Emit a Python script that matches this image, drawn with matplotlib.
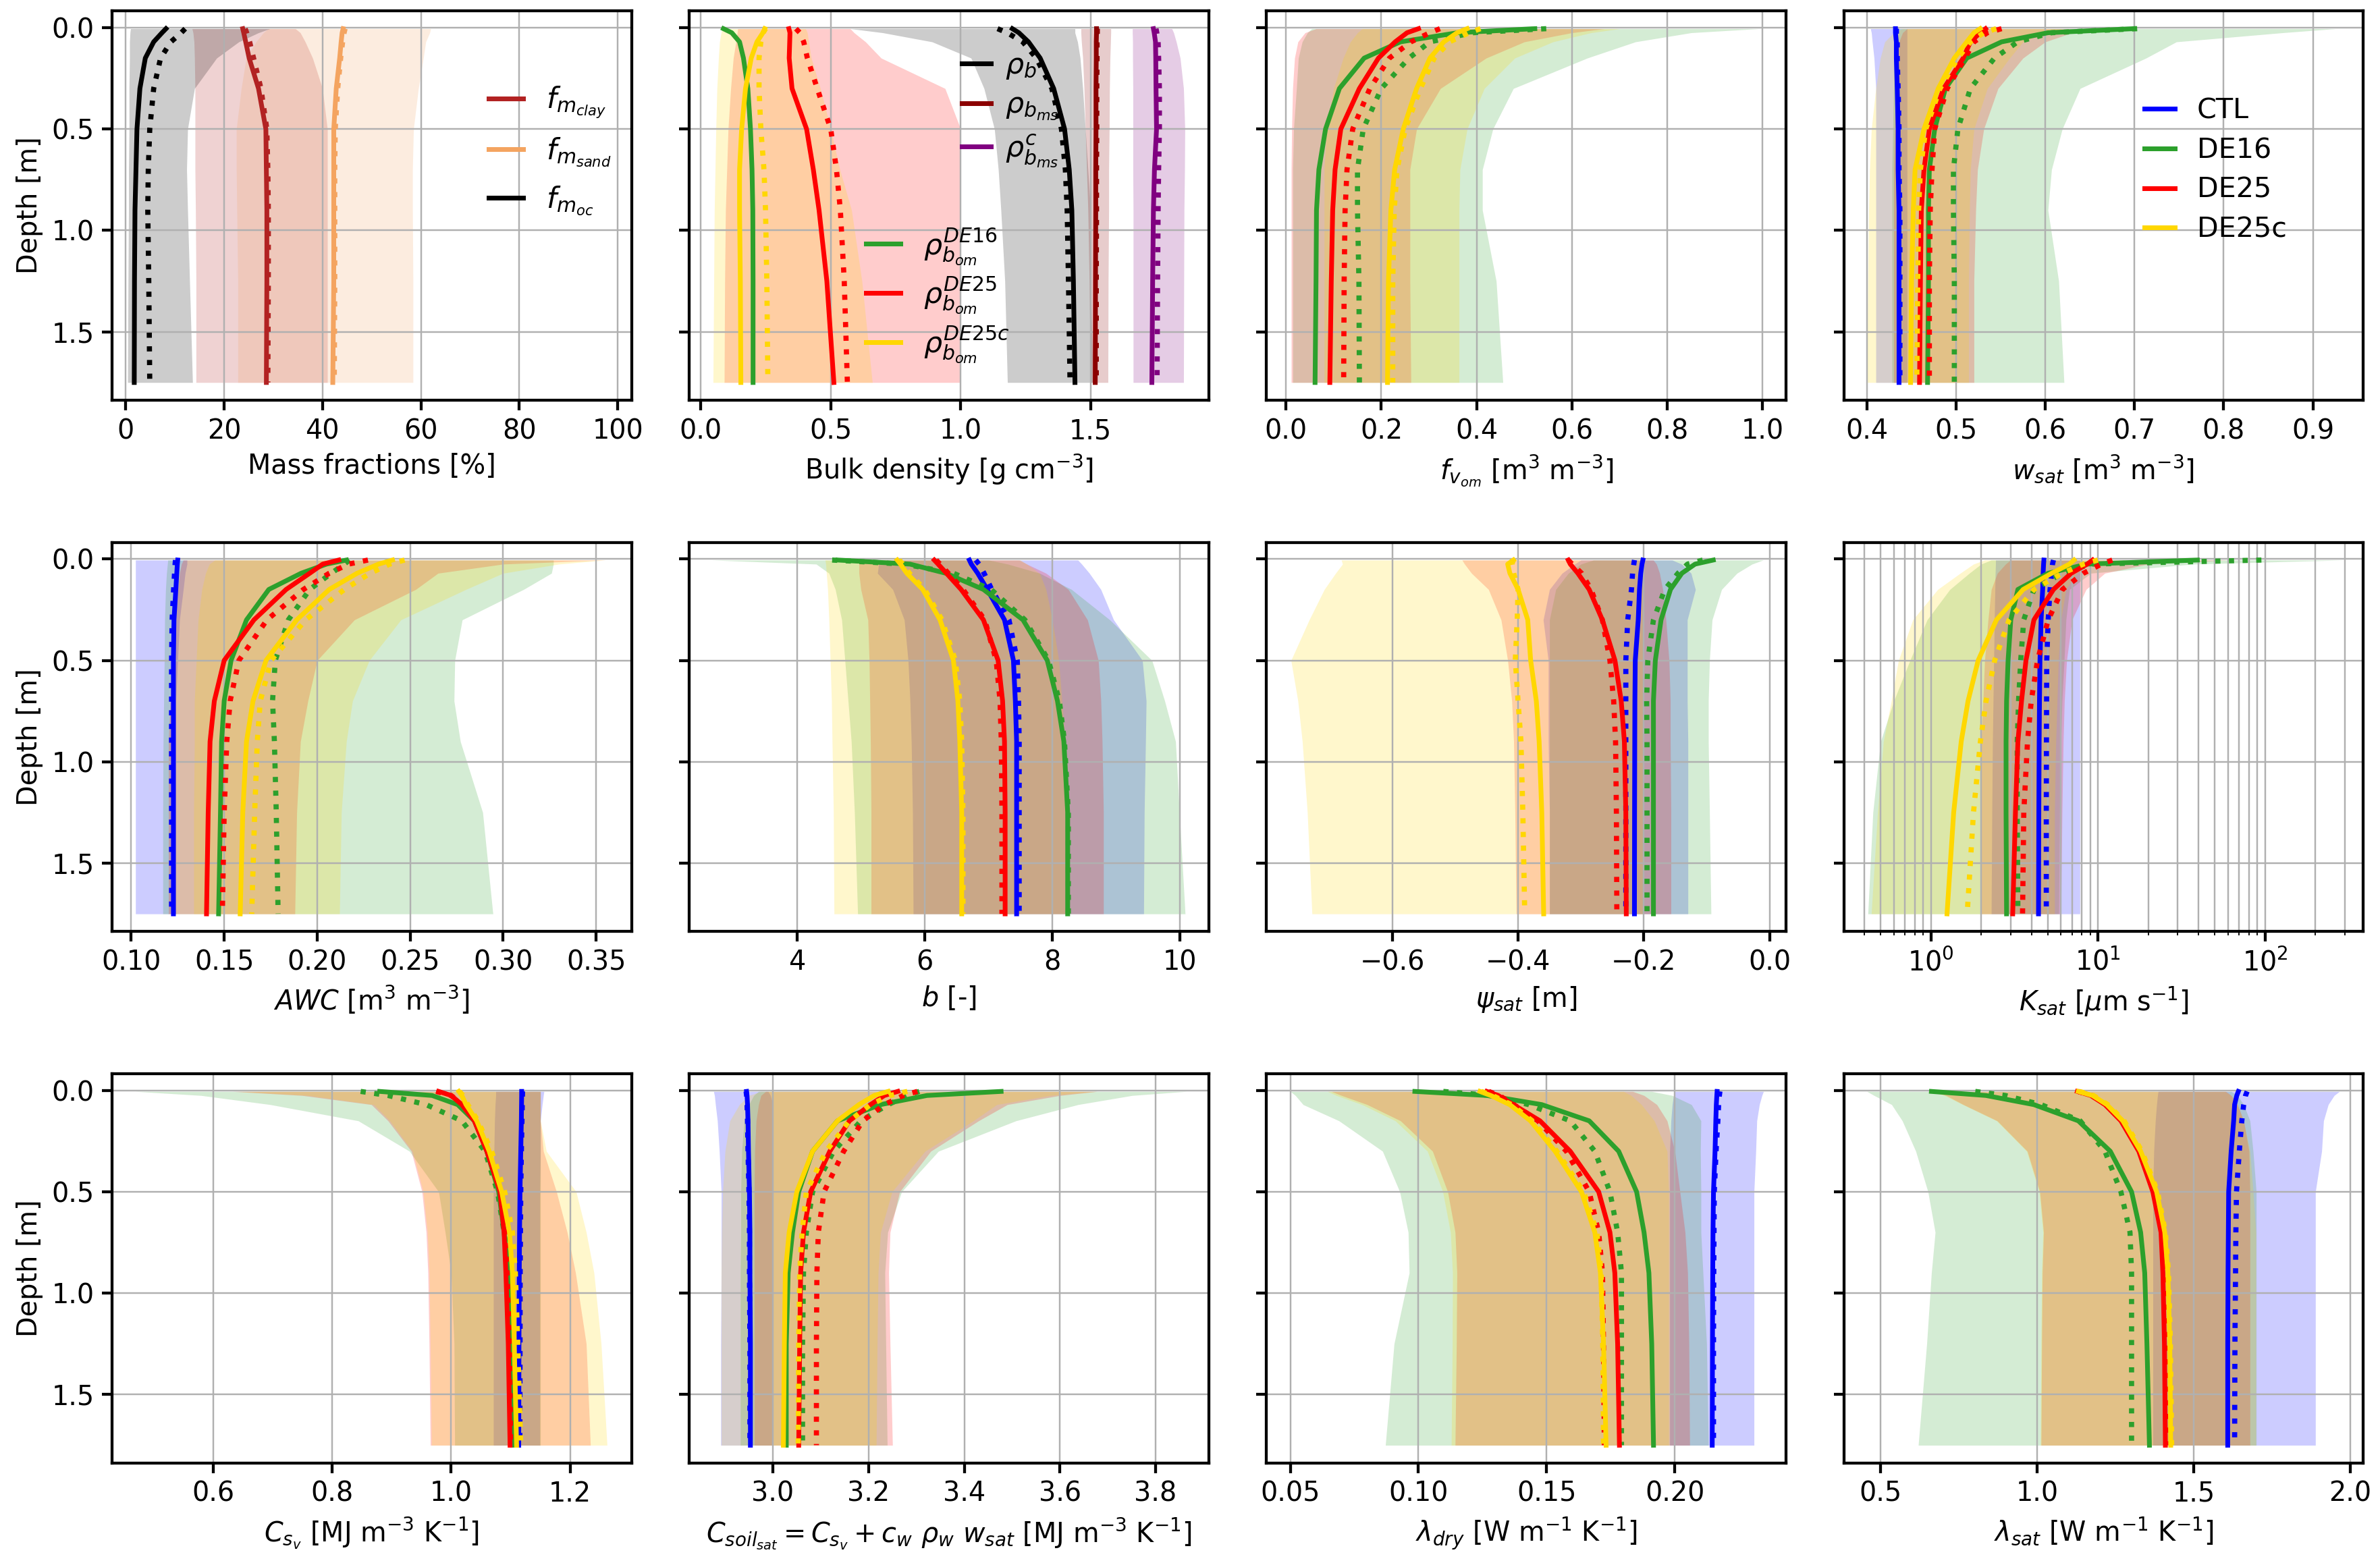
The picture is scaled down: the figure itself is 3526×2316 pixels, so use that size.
import numpy as np
import matplotlib
matplotlib.use('Agg')
import matplotlib.pyplot as plt

plt.rcParams['font.size'] = 13
plt.rcParams['axes.linewidth'] = 1.4
plt.rcParams['xtick.major.size'] = 5
plt.rcParams['ytick.major.size'] = 5
plt.rcParams['xtick.major.width'] = 1.4
plt.rcParams['ytick.major.width'] = 1.4

# node depths of the soil layers [m]
depth = [0.005, 0.025, 0.07, 0.15, 0.3, 0.5, 0.7, 0.9, 1.25, 1.75]

exp_colors = {'CTL': 'b', 'DE16': 'tab:green', 'DE25': 'r', 'DE25c': 'gold'}

# each entry: [solid profile, dotted profile, band low, band high]
# mass fractions [%]
mass = {
    'clay': [[23.8, 24.0, 24.4, 25.1, 27.0, 28.5, 28.6, 28.7, 28.7, 28.6],
             [24.3, 24.6, 25.2, 26.0, 27.5, 28.7, 28.9, 29.0, 29.0, 28.9],
             [13.5, 13.7, 13.9, 14.0, 14.1, 14.1, 14.1, 14.2, 14.3, 14.3],
             [34.5, 35.5, 36.5, 38.0, 40.0, 41.0, 41.0, 41.0, 41.0, 41.0]],
    'sand': [[44.2, 44.0, 43.8, 43.5, 42.8, 42.3, 42.3, 42.3, 42.3, 42.1],
             [44.6, 44.4, 44.1, 43.7, 43.1, 42.6, 42.5, 42.5, 42.5, 42.4],
             [29.0, 28.0, 26.5, 24.5, 23.5, 22.5, 22.5, 22.6, 22.8, 22.8],
             [62.0, 61.8, 61.0, 60.5, 59.5, 58.5, 58.3, 58.3, 58.4, 58.4]],
    'oc': [[8.2, 7.4, 5.7, 4.0, 2.9, 2.3, 2.1, 1.9, 1.8, 1.75],
           [12.1, 11.3, 9.2, 7.1, 5.7, 4.9, 4.6, 4.5, 4.7, 4.9],
           [1.0, 0.9, 0.8, 0.8, 0.7, 0.7, 0.6, 0.6, 0.5, 0.4],
           [29.3, 27.0, 23.0, 18.5, 14.0, 12.6, 12.4, 12.6, 13.0, 13.6]],
}
mass_colors = {'clay': 'firebrick', 'sand': 'sandybrown', 'oc': 'k'}
mass_labels = {'clay': '$f_{m_{clay}}$', 'sand': '$f_{m_{sand}}$', 'oc': '$f_{m_{oc}}$'}

# bulk densities [g cm-3]
rho = {
    'b': [[1.199, 1.224, 1.261, 1.306, 1.358, 1.400, 1.418, 1.428, 1.434, 1.440],
          [1.142, 1.179, 1.239, 1.291, 1.351, 1.388, 1.403, 1.410, 1.415, 1.421],
          [0.575, 0.70, 0.89, 1.04, 1.09, 1.13, 1.145, 1.155, 1.17, 1.18],
          [1.44, 1.44, 1.45, 1.46, 1.47, 1.48, 1.49, 1.50, 1.50, 1.51]],
    'bms': [[1.523, 1.523, 1.522, 1.522, 1.521, 1.521, 1.520, 1.520, 1.519, 1.518],
            [1.526, 1.526, 1.525, 1.525, 1.524, 1.524, 1.523, 1.523, 1.522, 1.522],
            [1.463, 1.463, 1.465, 1.47, 1.475, 1.48, 1.485, 1.49, 1.495, 1.50],
            [1.578, 1.578, 1.577, 1.575, 1.573, 1.572, 1.570, 1.570, 1.568, 1.567]],
    'bmsc': [[1.742, 1.745, 1.750, 1.751, 1.752, 1.754, 1.746, 1.742, 1.739, 1.736],
             [1.752, 1.755, 1.760, 1.762, 1.765, 1.765, 1.762, 1.760, 1.758, 1.756],
             [1.661, 1.661, 1.662, 1.662, 1.663, 1.663, 1.663, 1.664, 1.664, 1.664],
             [1.813, 1.82, 1.83, 1.845, 1.858, 1.863, 1.862, 1.86, 1.859, 1.858]],
}
rho_colors = {'b': 'k', 'bms': 'darkred', 'bmsc': 'purple'}
rho_labels = {'b': r'$\rho_b$', 'bms': r'$\rho_{b_{ms}}$', 'bmsc': r'$\rho_{b_{ms}}^c$'}

rho_om = {
    'DE16': [[0.087, 0.119, 0.149, 0.164, 0.181, 0.191, 0.197, 0.200, 0.201, 0.201],
             None, None, None],
    'DE25': [[0.339, 0.343, 0.342, 0.340, 0.351, 0.407, 0.433, 0.455, 0.485, 0.512],
             [0.366, 0.381, 0.396, 0.410, 0.448, 0.500, 0.522, 0.537, 0.552, 0.564],
             [0.142, 0.14, 0.135, 0.125, 0.115, 0.105, 0.10, 0.095, 0.092, 0.09],
             [0.575, 0.59, 0.634, 0.694, 0.94, 1.0, 1.0, 1.0, 1.0, 1.0]],
    'DE25c': [[0.246, 0.239, 0.216, 0.194, 0.172, 0.157, 0.149, 0.149, 0.152, 0.154],
              [0.249, 0.240, 0.231, 0.224, 0.224, 0.231, 0.243, 0.249, 0.254, 0.258],
              [0.082, 0.078, 0.072, 0.068, 0.062, 0.058, 0.055, 0.052, 0.05, 0.047],
              [0.403, 0.41, 0.415, 0.425, 0.46, 0.5, 0.535, 0.58, 0.62, 0.66]],
}

# volumetric fraction of organic matter [m3 m-3]
fvom = {
    'DE16': [[0.522, 0.36, 0.24, 0.164, 0.112, 0.083, 0.069, 0.064, 0.063, 0.061],
             [0.546, 0.392, 0.302, 0.258, 0.2, 0.162, 0.15, 0.15, 0.153, 0.154],
             [0.054, 0.045, 0.034, 0.026, 0.022, 0.016, 0.014, 0.014, 0.014, 0.014],
             [0.993, 0.85, 0.733, 0.632, 0.477, 0.434, 0.412, 0.412, 0.441, 0.455]],
    'DE25': [[0.278, 0.254, 0.229, 0.194, 0.154, 0.115, 0.103, 0.098, 0.095, 0.092],
             [0.323, 0.302, 0.262, 0.217, 0.176, 0.14, 0.128, 0.124, 0.122, 0.121],
             [0.063, 0.04, 0.025, 0.018, 0.014, 0.012, 0.011, 0.011, 0.011, 0.011],
             [0.668, 0.6, 0.5, 0.42, 0.324, 0.274, 0.26, 0.26, 0.26, 0.262]],
    'DE25c': [[0.38, 0.359, 0.331, 0.302, 0.274, 0.246, 0.228, 0.22, 0.215, 0.213],
              [0.408, 0.384, 0.343, 0.311, 0.282, 0.25, 0.233, 0.227, 0.224, 0.224],
              [0.16, 0.15, 0.135, 0.12, 0.1, 0.085, 0.08, 0.08, 0.08, 0.08],
              [0.70, 0.64, 0.56, 0.48, 0.416, 0.38, 0.365, 0.363, 0.363, 0.363]],
}

# porosity [m3 m-3]
wsat = {
    'CTL': [[0.432, 0.432, 0.433, 0.433, 0.434, 0.435, 0.435, 0.436, 0.436, 0.436],
            [0.433, 0.433, 0.434, 0.434, 0.435, 0.436, 0.436, 0.437, 0.437, 0.437],
            [0.404, 0.405, 0.406, 0.408, 0.41, 0.41, 0.41, 0.41, 0.41, 0.41],
            [0.445, 0.445, 0.445, 0.445, 0.445, 0.445, 0.445, 0.445, 0.445, 0.445]],
    'DE16': [[0.699, 0.603, 0.551, 0.512, 0.488, 0.476, 0.47, 0.469, 0.469, 0.468],
             [0.703, 0.607, 0.569, 0.543, 0.516, 0.502, 0.497, 0.497, 0.498, 0.498],
             [0.435, 0.433, 0.432, 0.43, 0.43, 0.429, 0.428, 0.428, 0.428, 0.428],
             [0.926, 0.866, 0.747, 0.713, 0.639, 0.619, 0.607, 0.603, 0.615, 0.621]],
    'DE25': [[0.533, 0.527, 0.516, 0.508, 0.486, 0.47, 0.464, 0.461, 0.46, 0.459],
             [0.551, 0.535, 0.52, 0.51, 0.49, 0.476, 0.473, 0.471, 0.47, 0.47],
             [0.445, 0.44, 0.436, 0.433, 0.432, 0.431, 0.43, 0.43, 0.43, 0.43],
             [0.66, 0.63, 0.6, 0.575, 0.547, 0.531, 0.524, 0.522, 0.52, 0.52]],
    'DE25c': [[0.527, 0.52, 0.512, 0.498, 0.48, 0.464, 0.454, 0.452, 0.45, 0.449],
              [0.545, 0.531, 0.516, 0.502, 0.482, 0.466, 0.46, 0.458, 0.457, 0.456],
              [0.44, 0.43, 0.42, 0.415, 0.41, 0.405, 0.403, 0.402, 0.401, 0.40],
              [0.62, 0.6, 0.575, 0.56, 0.535, 0.52, 0.516, 0.515, 0.514, 0.514]],
}

# available water content [m3 m-3]
awc = {
    'CTL': [[0.125, 0.1248, 0.1245, 0.124, 0.123, 0.1227, 0.1227, 0.1227, 0.1227, 0.1227],
            [0.1238, 0.1236, 0.1233, 0.1228, 0.122, 0.1217, 0.1217, 0.1217, 0.1217, 0.1217],
            [0.1023, 0.1023, 0.1023, 0.1023, 0.1023, 0.1023, 0.1023, 0.1023, 0.1023, 0.1023],
            [0.13, 0.13, 0.129, 0.128, 0.126, 0.125, 0.124, 0.124, 0.124, 0.124]],
    'DE16': [[0.2157, 0.205, 0.1914, 0.174, 0.162, 0.1537, 0.150, 0.1486, 0.148, 0.147],
             [0.2174, 0.2146, 0.2076, 0.196, 0.1845, 0.1775, 0.176, 0.177, 0.178, 0.179],
             [0.1197, 0.1195, 0.119, 0.1185, 0.118, 0.1178, 0.1175, 0.1172, 0.117, 0.117],
             [0.327, 0.327, 0.326, 0.311, 0.278, 0.274, 0.2736, 0.277, 0.289, 0.2945]],
    'DE25': [[0.2116, 0.203, 0.196, 0.1833, 0.166, 0.150, 0.1447, 0.1424, 0.1414, 0.1405],
             [0.2273, 0.2169, 0.2065, 0.1926, 0.173, 0.1579, 0.1532, 0.1514, 0.150, 0.149],
             [0.128, 0.127, 0.126, 0.125, 0.123, 0.122, 0.121, 0.12, 0.12, 0.12],
             [0.355, 0.3, 0.265, 0.253, 0.22, 0.2, 0.195, 0.191, 0.189, 0.188]],
    'DE25c': [[0.2405, 0.233, 0.2215, 0.2065, 0.189, 0.1725, 0.1655, 0.162, 0.16, 0.1586],
              [0.247, 0.239, 0.2285, 0.2146, 0.1938, 0.1752, 0.1694, 0.1678, 0.1664, 0.1648],
              [0.145, 0.142, 0.14, 0.138, 0.136, 0.135, 0.134, 0.134, 0.1336, 0.1336],
              [0.355, 0.33, 0.3, 0.28, 0.245, 0.228, 0.219, 0.2157, 0.213, 0.212]],
}

# Clapp and Hornberger b [-]
bcoef = {
    'CTL': [[6.70, 6.73, 6.83, 6.98, 7.25, 7.39, 7.42, 7.44, 7.44, 7.44],
            [6.80, 6.85, 6.93, 7.05, 7.32, 7.45, 7.47, 7.48, 7.48, 7.48],
            [5.29, 5.28, 5.26, 5.5, 5.68, 5.74, 5.77, 5.79, 5.81, 5.82],
            [8.40, 8.46, 8.58, 8.76, 8.96, 9.41, 9.47, 9.46, 9.44, 9.43]],
    'DE16': [[4.64, 5.77, 6.33, 6.92, 7.54, 7.92, 8.08, 8.18, 8.24, 8.24],
             [4.55, 5.68, 6.45, 7.04, 7.57, 7.94, 8.11, 8.19, 8.25, 8.25],
             [2.66, 4.3, 4.5, 4.6, 4.7, 4.75, 4.8, 4.85, 4.9, 4.95],
             [7.0, 7.3, 7.8, 8.3, 8.9, 9.56, 9.76, 9.93, 9.99, 10.08]],
    'DE25': [[6.15, 6.21, 6.34, 6.57, 6.92, 7.15, 7.22, 7.25, 7.26, 7.26],
             [6.18, 6.24, 6.37, 6.6, 6.94, 7.12, 7.18, 7.2, 7.21, 7.21],
             [4.97, 4.97, 4.97, 5.0, 5.11, 5.13, 5.14, 5.15, 5.16, 5.16],
             [7.48, 7.6, 7.9, 8.25, 8.55, 8.72, 8.76, 8.78, 8.8, 8.8]],
    'DE25c': [[5.57, 5.62, 5.72, 5.97, 6.24, 6.45, 6.52, 6.55, 6.58, 6.58],
              [5.60, 5.66, 5.76, 6.00, 6.27, 6.48, 6.55, 6.58, 6.60, 6.60],
              [4.44, 4.45, 4.46, 4.48, 4.5, 4.52, 4.54, 4.55, 4.57, 4.58],
              [7.5, 7.6, 7.8, 7.9, 8.0, 8.1, 8.15, 8.2, 8.2, 8.2]],
}

# matric potential at saturation [m]
psisat = {
    'CTL': [[-0.2016, -0.203, -0.205, -0.207, -0.209, -0.2137, -0.2143, -0.2145, -0.2148, -0.215],
            [-0.215, -0.216, -0.218, -0.2197, -0.2257, -0.2287, -0.2287, -0.2287, -0.2287, -0.2287],
            [-0.30, -0.31, -0.33, -0.35, -0.36, -0.352, -0.352, -0.352, -0.35, -0.35],
            [-0.155, -0.14, -0.125, -0.118, -0.131, -0.131, -0.131, -0.13, -0.13, -0.13]],
    'DE16': [[-0.0897, -0.1186, -0.1396, -0.1577, -0.1727, -0.1818, -0.1848, -0.1848, -0.1848, -0.1848],
             [-0.1065, -0.1306, -0.1457, -0.1667, -0.1848, -0.1938, -0.1956, -0.195, -0.195, -0.195],
             [-0.28, -0.3, -0.32, -0.34, -0.35, -0.35, -0.35, -0.35, -0.35, -0.35],
             [-0.0102, -0.028, -0.052, -0.0764, -0.0915, -0.0957, -0.0975, -0.0975, -0.0957, -0.0933]],
    'DE25': [[-0.3202, -0.317, -0.305, -0.287, -0.266, -0.246, -0.236, -0.231, -0.2287, -0.228],
             [-0.3202, -0.314, -0.299, -0.284, -0.266, -0.254, -0.248, -0.245, -0.2437, -0.243],
             [-0.489, -0.485, -0.474, -0.447, -0.427, -0.4165, -0.41, -0.407, -0.405, -0.403],
             [-0.185, -0.18, -0.175, -0.17, -0.165, -0.16, -0.158, -0.158, -0.157, -0.157]],
    'DE25c': [[-0.4074, -0.4165, -0.413, -0.40, -0.3846, -0.38, -0.371, -0.3665, -0.3623, -0.3593],
              [-0.4074, -0.41, -0.407, -0.40, -0.4014, -0.4044, -0.40, -0.3954, -0.3924, -0.3894],
              [-0.681, -0.679, -0.69, -0.708, -0.732, -0.761, -0.75, -0.743, -0.735, -0.7276],
              [-0.2, -0.2, -0.2, -0.2, -0.2, -0.2, -0.2, -0.2, -0.2, -0.2]],
}

# saturated hydraulic conductivity [um s-1]
ksat = {
    'CTL': [[4.75, 4.73, 4.7, 4.67, 4.57, 4.5, 4.47, 4.45, 4.43, 4.41],
            [5.42, 5.35, 5.29, 5.17, 5.04, 4.94, 4.93, 4.92, 4.91, 4.91],
            [2.44, 2.44, 2.43, 2.42, 2.40, 2.38, 2.36, 2.34, 2.32, 2.30],
            [7.8, 7.8, 7.8, 7.8, 7.8, 7.8, 7.8, 7.8, 7.8, 7.8]],
    'DE16': [[39.4, 8.63, 5.04, 3.32, 3.01, 2.9, 2.84, 2.82, 2.82, 2.84],
             [95.2, 9.06, 6.13, 4.14, 3.6, 3.45, 3.35, 3.29, 3.29, 3.32],
             [2.3, 2.0, 1.7, 1.3, 0.95, 0.75, 0.6, 0.5, 0.45, 0.42],
             [295.0, 37.0, 9.06, 6.76, 6.44, 6.28, 6.1, 6.0, 5.9, 5.83]],
    'DE25': [[9.29, 8.63, 6.92, 5.42, 4.14, 3.71, 3.49, 3.32, 3.21, 3.09],
             [12.2, 10.5, 8.2, 6.13, 5.04, 4.35, 3.99, 3.79, 3.6, 3.54],
             [3.0, 2.8, 2.5, 2.3, 2.2, 2.1, 2.05, 2.0, 2.0, 2.0],
             [60.0, 20.0, 11.0, 8.5, 7.0, 6.5, 6.3, 6.2, 6.1, 6.0]],
    'DE25c': [[7.2, 6.76, 5.29, 3.57, 2.47, 1.92, 1.67, 1.52, 1.37, 1.25],
              [10.0, 8.2, 6.13, 4.14, 2.94, 2.41, 2.14, 1.98, 1.8, 1.65],
              [2.1, 1.8, 1.5, 1.1, 0.78, 0.64, 0.58, 0.52, 0.48, 0.44],
              [11.0, 9.0, 7.5, 6.44, 6.0, 5.8, 5.7, 5.6, 5.5, 5.5]],
}

# volumetric heat capacity of soil solids [MJ m-3 K-1]
csv = {
    'CTL': [[1.1185, 1.1185, 1.1183, 1.118, 1.117, 1.1157, 1.115, 1.1145, 1.114, 1.1136],
            [1.12, 1.1198, 1.1195, 1.119, 1.118, 1.117, 1.1165, 1.116, 1.1158, 1.1155],
            [1.075, 1.075, 1.074, 1.073, 1.072, 1.071, 1.071, 1.071, 1.071, 1.071],
            [1.156, 1.155, 1.153, 1.15, 1.15, 1.149, 1.149, 1.149, 1.149, 1.149]],
    'DE16': [[0.88, 0.968, 1.011, 1.039, 1.06, 1.08, 1.089, 1.096, 1.0994, 1.103],
             [0.848, 0.894, 0.958, 1.018, 1.057, 1.078, 1.089, 1.099, 1.103, 1.105],
             [0.469, 0.58, 0.696, 0.844, 0.93, 0.979, 0.99, 1.0, 1.005, 1.006],
             [1.15, 1.15, 1.15, 1.15, 1.15, 1.15, 1.15, 1.15, 1.15, 1.15]],
    'DE25': [[0.979, 1.0, 1.018, 1.039, 1.06, 1.082, 1.089, 1.092, 1.096, 1.099],
             [0.975, 1.0, 1.02, 1.04, 1.062, 1.083, 1.09, 1.094, 1.098, 1.1],
             [0.632, 0.75, 0.866, 0.894, 0.933, 0.951, 0.958, 0.961, 0.963, 0.965],
             [1.15, 1.15, 1.15, 1.15, 1.155, 1.177, 1.195, 1.209, 1.227, 1.234]],
    'DE25c': [[1.013, 1.018, 1.025, 1.043, 1.064, 1.085, 1.098, 1.103, 1.106, 1.11],
              [1.014, 1.02, 1.028, 1.045, 1.068, 1.09, 1.103, 1.108, 1.112, 1.117],
              [0.64, 0.76, 0.87, 0.897, 0.935, 0.953, 0.96, 0.963, 0.965, 0.967],
              [1.15, 1.15, 1.15, 1.15, 1.16, 1.21, 1.227, 1.24, 1.252, 1.262]],
}

# heat capacity of the saturated soil [MJ m-3 K-1]
csat = {
    'CTL': [[2.945, 2.946, 2.947, 2.948, 2.949, 2.951, 2.952, 2.952, 2.953, 2.953],
            [2.944, 2.945, 2.946, 2.947, 2.948, 2.95, 2.951, 2.951, 2.952, 2.952],
            [2.876, 2.878, 2.88, 2.884, 2.888, 2.892, 2.892, 2.892, 2.891, 2.891],
            [2.99, 2.995, 3.0, 3.0, 3.0, 3.0, 3.0, 3.0, 3.0, 3.0]],
    'DE16': [[3.477, 3.322, 3.225, 3.135, 3.083, 3.054, 3.041, 3.032, 3.028, 3.028],
             [3.306, 3.281, 3.241, 3.184, 3.127, 3.083, 3.07, 3.064, 3.062, 3.062],
             [2.97, 2.96, 2.95, 2.94, 2.935, 2.933, 2.933, 2.932, 2.932, 2.932],
             [3.865, 3.751, 3.638, 3.508, 3.346, 3.269, 3.24, 3.234, 3.236, 3.239]],
    'DE25': [[3.261, 3.233, 3.204, 3.16, 3.119, 3.079, 3.064, 3.058, 3.056, 3.054],
             [3.302, 3.273, 3.233, 3.188, 3.148, 3.107, 3.095, 3.092, 3.091, 3.091],
             [2.985, 2.975, 2.97, 2.965, 2.962, 2.961, 2.961, 2.961, 2.961, 2.961],
             [3.678, 3.6, 3.49, 3.43, 3.33, 3.265, 3.245, 3.242, 3.245, 3.25]],
    'DE25c': [[3.241, 3.212, 3.18, 3.135, 3.083, 3.05, 3.034, 3.026, 3.024, 3.022],
              [3.281, 3.245, 3.204, 3.16, 3.111, 3.07, 3.061, 3.056, 3.054, 3.053],
              [2.975, 2.95, 2.93, 2.91, 2.9, 2.895, 2.893, 2.892, 2.892, 2.892],
              [3.678, 3.58, 3.468, 3.419, 3.318, 3.249, 3.225, 3.22, 3.218, 3.216]],
}

# dry thermal conductivity [W m-1 K-1]
ldry = {
    'CTL': [[0.2165, 0.2164, 0.2162, 0.216, 0.2157, 0.2151, 0.2149, 0.2148, 0.2147, 0.2146],
            [0.2176, 0.2174, 0.2171, 0.2168, 0.2161, 0.2154, 0.2153, 0.2152, 0.2151, 0.2151],
            [0.1999, 0.1995, 0.199, 0.1985, 0.198, 0.198, 0.198, 0.198, 0.198, 0.198],
            [0.2346, 0.234, 0.233, 0.232, 0.2316, 0.2309, 0.2309, 0.2309, 0.2309, 0.2309]],
    'DE16': [[0.0986, 0.1267, 0.1481, 0.1666, 0.1781, 0.1851, 0.188, 0.1899, 0.191, 0.1917],
             [0.1097, 0.1282, 0.143, 0.1592, 0.1688, 0.1747, 0.1777, 0.1792, 0.1792, 0.1792],
             [0.05, 0.052, 0.055, 0.069, 0.086, 0.0927, 0.096, 0.0964, 0.0905, 0.0871],
             [0.191, 0.199, 0.2065, 0.2102, 0.21, 0.2102, 0.2102, 0.211, 0.2124, 0.2131]],
    'DE25': [[0.1267, 0.1311, 0.137, 0.1474, 0.1592, 0.1703, 0.1747, 0.1766, 0.1777, 0.1784],
             [0.1274, 0.1315, 0.1372, 0.1466, 0.1577, 0.1666, 0.1703, 0.1718, 0.1722, 0.1725],
             [0.066, 0.07, 0.08, 0.093, 0.1055, 0.1114, 0.1143, 0.115, 0.1148, 0.1143],
             [0.1836, 0.188, 0.193, 0.197, 0.2, 0.202, 0.204, 0.205, 0.2055, 0.2058]],
    'DE25c': [[0.124, 0.1282, 0.1356, 0.1437, 0.1533, 0.1636, 0.1688, 0.171, 0.1722, 0.1732],
              [0.1245, 0.1289, 0.1363, 0.1444, 0.154, 0.1644, 0.1696, 0.1713, 0.1719, 0.1722],
              [0.0645, 0.068, 0.078, 0.091, 0.1035, 0.1095, 0.1125, 0.1133, 0.1132, 0.1128],
              [0.18, 0.183, 0.187, 0.192, 0.197, 0.1976, 0.1976, 0.1976, 0.1976, 0.1976]],
}

# saturated thermal conductivity [W m-1 K-1]
lsat = {
    'CTL': [[1.643, 1.638, 1.631, 1.628, 1.62, 1.612, 1.611, 1.61, 1.609, 1.609],
            [1.671, 1.666, 1.66, 1.654, 1.646, 1.637, 1.635, 1.634, 1.632, 1.631],
            [1.387, 1.385, 1.382, 1.378, 1.373, 1.37, 1.37, 1.37, 1.37, 1.37],
            [1.966, 1.949, 1.93, 1.915, 1.909, 1.889, 1.889, 1.889, 1.889, 1.889]],
    'DE16': [[0.663, 0.837, 0.99, 1.132, 1.234, 1.302, 1.331, 1.344, 1.351, 1.359],
             [0.803, 0.899, 1.013, 1.138, 1.217, 1.268, 1.297, 1.302, 1.302, 1.302],
             [0.457, 0.48, 0.536, 0.57, 0.613, 0.652, 0.675, 0.663, 0.648, 0.621],
             [1.62, 1.64, 1.66, 1.68, 1.69, 1.70, 1.70, 1.70, 1.70, 1.70]],
    'DE25': [[1.129, 1.172, 1.217, 1.268, 1.325, 1.37, 1.396, 1.402, 1.407, 1.41],
             [1.131, 1.174, 1.22, 1.27, 1.328, 1.376, 1.4, 1.407, 1.41, 1.412],
             [0.665, 0.71, 0.765, 0.873, 0.969, 1.009, 1.021, 1.017, 1.015, 1.013],
             [1.603, 1.62, 1.64, 1.66, 1.677, 1.68, 1.68, 1.68, 1.68, 1.68]],
    'DE25c': [[1.132, 1.177, 1.223, 1.274, 1.331, 1.382, 1.408, 1.418, 1.424, 1.427],
              [1.135, 1.18, 1.226, 1.278, 1.335, 1.385, 1.41, 1.42, 1.426, 1.43],
              [0.661, 0.705, 0.763, 0.871, 0.967, 1.007, 1.019, 1.015, 1.013, 1.011],
              [1.6, 1.62, 1.64, 1.66, 1.68, 1.69, 1.699, 1.699, 1.699, 1.699]],
}


def profiles(ax, data, colors, labels=None):
    # bands first, then lines on top
    lines = {}
    for key, (solid, dotted, lo, hi) in data.items():
        if lo is not None:
            ax.fill_betweenx(depth, lo, hi, color=colors[key], alpha=0.2, linewidth=0)
    for key, (solid, dotted, lo, hi) in data.items():
        lab = labels[key] if labels else key
        lines[key], = ax.plot(solid, depth, color=colors[key], lw=2.3, label=lab)
        if dotted is not None:
            ax.plot(dotted, depth, ':', color=colors[key], lw=2.5)
    return lines


fig, axs = plt.subplots(3, 4, figsize=(3526 / 220, 2316 / 220), sharey=True)
plt.subplots_adjust(left=0.047, right=0.993, top=0.993, bottom=0.064, wspace=0.111, hspace=0.365)

ax = axs[0, 0]
h = profiles(ax, mass, mass_colors, mass_labels)
ax.set_xlim(-2.8, 102.8)
ax.set_xlabel('Mass fractions [%]')
ax.legend(handles=[h['clay'], h['sand'], h['oc']], loc='center left', bbox_to_anchor=(0.675, 0.64),
          frameon=False, fontsize=14, handlelength=1.2, labelspacing=0.55)

ax = axs[0, 1]
h1 = profiles(ax, rho, rho_colors, rho_labels)
h2 = profiles(ax, rho_om, exp_colors,
              {k: r'$\rho_{b_{om}}^{%s}$' % k for k in rho_om})
ax.set_xlim(-0.045, 1.955)
ax.set_xticks([0.0, 0.5, 1.0, 1.5])
ax.set_xlabel('Bulk density [g cm$^{-3}$]')
leg = ax.legend(handles=list(h1.values()), loc='center left', bbox_to_anchor=(0.475, 0.745),
                frameon=False, fontsize=14, handlelength=1.0, handletextpad=0.5, labelspacing=0.35)
ax.add_artist(leg)
ax.legend(handles=list(h2.values()), loc='center left', bbox_to_anchor=(0.29, 0.27),
          frameon=False, fontsize=14, handlelength=1.2, labelspacing=0.3)

ax = axs[0, 2]
profiles(ax, fvom, exp_colors)
ax.set_xlim(-0.041, 1.049)
ax.set_xticks([0.0, 0.2, 0.4, 0.6, 0.8, 1.0])
ax.set_xlabel('$f_{v_{om}}$ [m$^3$ m$^{-3}$]')

ax = axs[0, 3]
h = profiles(ax, wsat, exp_colors)
ax.set_xlim(0.374, 0.9566)
ax.set_xticks([0.4, 0.5, 0.6, 0.7, 0.8, 0.9])
ax.set_xlabel('$w_{sat}$ [m$^3$ m$^{-3}$]')
ax.legend(handles=list(h.values()), loc='center left', bbox_to_anchor=(0.53, 0.59),
          frameon=False, fontsize=13.5, handlelength=1.1, labelspacing=0.45)

ax = axs[1, 0]
profiles(ax, awc, exp_colors)
ax.set_xlim(0.0896, 0.369)
ax.set_xticks([0.10, 0.15, 0.20, 0.25, 0.30, 0.35])
ax.set_xlabel('$AWC$ [m$^3$ m$^{-3}$]')

ax = axs[1, 1]
profiles(ax, bcoef, exp_colors)
ax.set_xlim(2.31, 10.45)
ax.set_xticks([4, 6, 8, 10])
ax.set_xlabel('$b$ [-]')

ax = axs[1, 2]
profiles(ax, psisat, exp_colors)
ax.set_xlim(-0.80, 0.026)
ax.set_xticks([-0.6, -0.4, -0.2, 0.0])
ax.set_xlabel(r'$\psi_{sat}$ [m]')

ax = axs[1, 3]
profiles(ax, ksat, exp_colors)
ax.set_xscale('log')
ax.set_xlim(0.301, 388)
ax.set_xlabel(r'$K_{sat}$ [$\mu$m s$^{-1}$]')

ax = axs[2, 0]
profiles(ax, csv, exp_colors)
ax.set_xlim(0.43, 1.303)
ax.set_xticks([0.6, 0.8, 1.0, 1.2])
ax.set_xlabel('$C_{s_v}$ [MJ m$^{-3}$ K$^{-1}$]')

ax = axs[2, 1]
profiles(ax, csat, exp_colors)
ax.set_xlim(2.825, 3.911)
ax.set_xticks([3.0, 3.2, 3.4, 3.6, 3.8])
ax.set_xlabel(r'$C_{soil_{sat}} = C_{s_v} + c_w\ \rho_w\ w_{sat}$ [MJ m$^{-3}$ K$^{-1}$]')

ax = axs[2, 2]
profiles(ax, ldry, exp_colors)
ax.set_xlim(0.0407, 0.2434)
ax.set_xticks([0.05, 0.10, 0.15, 0.20])
ax.set_xlabel(r'$\lambda_{dry}$ [W m$^{-1}$ K$^{-1}$]')

ax = axs[2, 3]
profiles(ax, lsat, exp_colors)
ax.set_xlim(0.383, 2.042)
ax.set_xticks([0.5, 1.0, 1.5, 2.0])
ax.set_xlabel(r'$\lambda_{sat}$ [W m$^{-1}$ K$^{-1}$]')

for ax in axs.flat:
    ax.grid(True, which='both' if ax.get_xscale() == 'log' else 'major')
axs[0, 0].set_yticks([0.0, 0.5, 1.0, 1.5])
axs[0, 0].set_ylim(1.8375, -0.0825)
for row in axs:
    row[0].set_ylabel('Depth [m]')

plt.savefig('out.png', dpi=220)
